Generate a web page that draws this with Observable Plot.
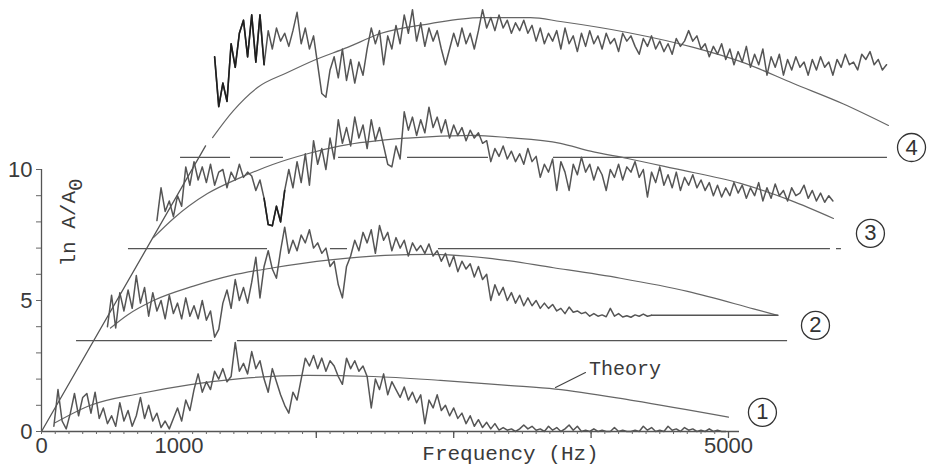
<!DOCTYPE html>
<html>
<head>
<meta charset="utf-8">
<script src="https://cdn.jsdelivr.net/npm/d3@7"></script>
<script src="https://cdn.jsdelivr.net/npm/@observablehq/plot@0.6"></script>
<style>
  html, body { margin: 0; padding: 0; background: #fff; }
</style>
</head>
<body>
<div id="chart"></div>
<script>
// Spectral ratios ln A/A0 for four records, offset vertically by ~3.5 units each.
// Each spectrum is sampled every 30 Hz from its own start frequency.
const freqStep = 30;

const s1Start = 90;
const s1Amp = [
  0.2, 1.6, 0.4, 0.1, 0.7, 1.45, 0.6, 1.3, 1.45, 0.7,
  1.5, 0.5, 0.9, 0.3, 0.6, 0.2, 1.1, 0.4, 0.8, 0.2,
  0.6, 1.3, 0.5, 1.0, 0.4, 0.7, 0.15, 0.4, 0.1, 0.5,
  0.9, 0.4, 1.2, 0.8, 1.6, 2.2, 1.5, 1.9, 1.6, 2.3,
  2.0, 2.4, 1.9, 2.1, 3.4, 2.3, 2.6, 2.2, 3.05, 2.4,
  2.7, 2.0, 1.5, 2.4, 1.9, 1.4, 1.0, 0.7, 1.5, 1.2,
  2.0, 2.8, 2.5, 2.9, 2.4, 2.8, 2.3, 2.7, 2.5, 2.1,
  1.8, 2.8, 2.4, 2.7, 2.3, 2.5, 2.1, 0.9, 2.0, 1.6,
  2.2, 1.4, 1.9, 1.6, 1.3, 1.7, 1.2, 1.5, 1.1, 1.4,
  0.3, 1.2, 0.9, 1.4, 0.8, 1.0, 0.6, 0.9, 0.5, 0.7,
  0.3, 0.6, 0.2, 0.45, 0.15, 0.35, 0.1, 0.3, 0.05, 0.15,
  0.05, 0.1, 0.0, 0.1, 0.25, 0.1, 0.2, 0.05, 0.1, 0.0,
  0.2, 0.05, 0.15, 0.0, 0.1, 0.25, 0.05, 0.2, 0.0, 0.05,
  0.0, 0.1, 0.0, 0.05, 0.0, 0.0, 0.15, 0.0, 0.05, 0.0,
  0.0, 0.05, 0.0, 0.2, 0.05, 0.15, 0.0, 0.05, 0.0, 0.2,
  0.05, 0.1, 0.0, 0.15, 0.05, 0.1, 0.0, 0.05, 0.0, 0.1,
  0.0, 0.05, 0.0, 0.0
];

const s2Start = 480;
const s2Amp = [
  4.0, 5.2, 3.95, 5.3, 4.6, 5.4, 4.7, 5.95, 4.9, 5.5,
  4.4, 5.3, 4.6, 5.0, 4.3, 5.2, 4.5, 4.9, 4.3, 5.1,
  4.4, 4.8, 4.3, 5.0, 4.25, 4.6, 3.6, 3.9, 4.9, 5.4,
  4.7, 5.8, 5.0, 5.5, 4.9, 5.7, 6.65, 5.1, 6.3, 6.9,
  6.2, 5.85, 6.9, 7.8, 6.8, 7.3, 6.9, 7.5, 7.2, 7.7,
  7.0, 7.2, 6.8, 7.0, 6.3, 6.5, 5.6, 5.1, 6.3, 6.7,
  7.3, 6.9, 7.6, 7.2, 7.7, 6.8, 7.86, 7.3, 7.6, 6.9,
  7.4, 7.0, 7.3, 6.7, 7.2, 6.9, 7.1, 6.8, 7.16, 6.7,
  6.9, 6.5, 6.8, 6.3, 6.7, 6.1, 6.5, 6.2, 6.4, 5.9,
  6.3, 5.8, 6.0, 5.0, 5.6, 5.2, 5.5, 5.0, 5.3, 4.9,
  5.2, 4.8, 5.1, 4.8, 5.0, 4.7, 4.9, 4.7, 4.85, 4.6,
  4.7, 4.5, 4.75, 4.55, 4.6, 4.5, 4.55, 4.4, 4.5, 4.4,
  4.45, 4.38, 4.7, 4.4, 4.5, 4.37, 4.42, 4.36, 4.45, 4.4,
  4.48, 4.4, 4.44
];
// flat run that closes spectrum 2 onto the end of its theory curve
const s2TailFreq = [4440, 5360];
const s2TailAmp = [4.44, 4.44];

const s3Start = 840;
const s3Amp = [
  8.05, 9.3, 8.4, 8.8, 8.2, 9.0, 8.6, 10.1, 9.4, 10.3,
  9.6, 10.1, 9.5, 10.2, 9.4, 9.9, 10.0, 9.3, 9.9, 9.6,
  10.2, 9.7, 9.9, 9.75, 9.2, 9.6, 8.9, 7.9, 7.85, 8.6,
  8.0, 9.2, 10.0, 9.3, 10.3, 9.5, 10.6, 9.4, 11.1, 10.2,
  10.8, 10.0, 11.2, 10.4, 11.9, 11.0, 11.6, 10.9, 12.0, 11.2,
  11.7, 10.8, 11.9, 11.1, 11.6, 10.9, 10.2, 10.1, 10.9, 10.4,
  12.2, 11.5, 12.0, 11.3, 11.9, 11.4, 12.38, 11.6, 12.0, 11.4,
  11.9, 11.2, 11.7, 11.3, 11.6, 11.1, 11.5, 11.2, 11.4, 11.0,
  11.1, 10.3, 10.8, 10.5, 10.9, 10.4, 10.7, 10.3, 10.6, 10.2,
  10.8, 10.3, 10.5, 9.7, 10.2, 9.9, 10.4, 9.2, 10.3, 9.9,
  9.2, 10.2, 9.8, 10.47, 9.9, 10.2, 9.6, 10.1, 9.8, 9.2,
  10.0, 9.7, 10.2, 9.6, 10.1, 9.9, 10.3, 9.7, 10.0, 8.95,
  9.9, 9.5, 10.1, 9.4, 9.8, 9.3, 9.9, 9.2, 9.7, 9.4,
  9.8, 9.3, 9.6, 9.2, 9.5, 9.0, 9.4, 8.95, 9.3, 9.0,
  9.5, 9.1, 9.4, 8.9, 9.3, 9.0, 9.5, 8.8, 9.3, 8.9,
  9.45, 9.0, 9.2, 8.8, 9.3, 9.0, 9.1, 9.4, 8.9, 9.2,
  8.8, 9.1, 8.75, 9.0, 8.8
];

const s4Start = 1260;
const s4Amp = [
  14.3, 12.4, 13.3, 12.6, 14.8, 13.9, 15.2, 15.7, 14.3, 15.9,
  14.1, 15.9, 14.0, 15.3, 14.6, 15.4, 14.9, 15.2, 14.7, 15.3,
  16.0, 14.8, 15.4, 14.6, 15.1, 14.0, 12.9, 12.76, 13.8, 14.3,
  13.5, 14.6, 13.4, 14.2, 13.3, 14.1, 13.6, 14.6, 15.4, 14.8,
  15.3, 14.0, 15.1, 14.6, 15.5, 14.8, 15.9, 15.2, 16.1, 14.9,
  15.6, 14.7, 15.4, 14.9, 15.3, 14.6, 14.0, 14.6, 15.2, 14.7,
  15.4, 14.8, 15.2, 14.6, 15.3, 16.1, 15.4, 15.8, 15.3, 15.9,
  15.4, 15.7, 15.2, 15.6, 15.3, 15.7, 15.2, 15.5, 14.9, 15.4,
  14.8, 15.2, 14.9, 15.3, 14.6, 15.4, 14.8, 15.1, 14.5, 15.2,
  14.7, 15.3, 14.8, 15.1, 14.6, 15.2, 14.8, 15.0, 14.5, 15.2,
  14.9, 15.1, 14.7, 14.4, 15.0, 14.7, 15.1, 14.6, 14.9, 14.5,
  14.8, 14.4, 15.0, 14.7, 14.9, 15.3, 14.9, 15.1, 14.6, 14.8,
  14.3, 14.7, 14.4, 14.8, 14.2, 14.6, 14.0, 14.5, 14.1, 14.7,
  13.9, 14.4, 14.0, 14.6, 13.6, 14.3, 13.9, 14.4, 13.6, 14.2,
  13.8, 14.3, 13.9, 14.1, 13.6, 14.2, 13.8, 14.3, 13.9, 14.1,
  13.6, 14.2, 13.9, 14.4, 14.0, 14.1, 13.8, 14.4, 14.2, 14.5,
  14.0, 14.2, 13.8, 14.0
];

// Theoretical spectra (smooth curves), one per record
const t1Freq = [102, 357, 720, 1084, 1448, 1936, 2416, 2904, 3392, 3741, 4309, 5000];
const t1Amp  = [0.34, 1.0, 1.45, 1.79, 2.02, 2.14, 2.10, 1.95, 1.76, 1.62, 1.18, 0.55];
const t2Freq = [502, 626, 815, 1106, 1376, 1688, 2103, 2500, 2831, 3246, 3727, 4214, 4702, 5182, 5357];
const t2Amp  = [3.95, 4.45, 5.0, 5.55, 5.95, 6.25, 6.55, 6.72, 6.76, 6.62, 6.25, 5.85, 5.35, 4.68, 4.43];
const t3Freq = [815, 961, 1208, 1448, 1688, 1936, 2176, 2664, 3144, 3392, 3777, 3996, 4265, 4600, 5087, 5451, 5764];
const t3Amp  = [7.4, 8.13, 9.08, 9.69, 10.2, 10.6, 10.9, 11.2, 11.3, 11.22, 11.0, 10.7, 10.42, 10.04, 9.47, 8.82, 8.13];
const t4Freq = [1245, 1397, 1572, 1790, 1980, 2227, 2467, 2831, 3195, 3559, 3777, 4265, 4745, 5109, 5473, 5837, 6164];
const t4Amp  = [11.22, 12.25, 13.13, 13.7, 14.16, 14.66, 15.19, 15.57, 15.8, 15.8, 15.65, 15.23, 14.66, 14.08, 13.28, 12.5, 11.68];

// Low-frequency asymptote from the origin
const asymFreq = [0, 1194];
const asymAmp  = [0, 10.9];

// Zero lines of the offset records (drawn in pieces where the traces cross them)
const baseLevel = [3.47, 3.47, 6.98, 6.98, 6.98, 6.98, 10.46, 10.46, 10.46, 10.46, 10.46];
const baseFrom  = [255, 1426, 633, 2103, 2889, 5786, 1012, 1521, 2162, 2664, 3726];
const baseTo    = [1245, 5430, 1645, 2227, 5742, 5822, 1376, 1761, 2518, 3253, 6157];

// Record numbers
const recordLabel = ["1", "2", "3", "4"];
const recordFreq  = [5247, 5633, 6033, 6332];
const recordAmp   = [0.73, 4.05, 7.56, 10.84];

// "Theory" annotation
const theoryLeaderFreq = [3741, 3959];
const theoryLeaderAmp  = [1.68, 2.25];
const theoryTextFreq = 3985;
const theoryTextAmp = 2.4;

// Axis ticks
const xMinorTicks = d3.range(0, 5001, 100);
const xMajorTicks = [2000, 3000, 4000, 5000];
const xTickLabels = [0, 1000, 5000];
const yMinorTicks = d3.range(0, 11, 1);
const yTickLabels = [0, 5, 10];

const toRows = (start, amps, id) => amps.map((v, i) => ({f: start + i * freqStep, v, id}));
const pairRows = (fs, vs, id) => fs.map((f, i) => ({f, v: vs[i], id}));

const spectra = [
  ...toRows(s1Start, s1Amp, 1),
  ...toRows(s2Start, s2Amp, 2),
  ...pairRows(s2TailFreq, s2TailAmp, 22),
  ...toRows(s3Start, s3Amp, 3),
  ...toRows(s4Start, s4Amp, 4)
];
const theory = [
  ...pairRows(t1Freq, t1Amp, 1),
  ...pairRows(t2Freq, t2Amp, 2),
  ...pairRows(t3Freq, t3Amp, 3),
  ...pairRows(t4Freq, t4Amp, 4)
];
const baselines = baseLevel.map((v, i) => ({v, from: baseFrom[i], to: baseTo[i]}));
const records = recordLabel.map((t, i) => ({t, f: recordFreq[i], v: recordAmp[i]}));

const mono = "'Liberation Mono', 'DejaVu Sans Mono', monospace";
const sans = "'Liberation Sans', Arial, sans-serif";
const ink = "#3a3a3a";
const trace = "#555";

const chart = Plot.plot({
  width: 933,
  height: 472,
  marginLeft: 41,
  marginBottom: 41,
  marginTop: 0,
  marginRight: 0,
  x: {type: "linear", domain: [0, 5000], range: [41, 728]},
  y: {type: "linear", domain: [0, 10], range: [431, 169]},
  style: {background: "#fff", overflow: "visible"},
  marks: [
    Plot.ruleY(baselines, {y: "v", x1: "from", x2: "to", stroke: "#555", strokeWidth: 1.3}),
    Plot.line(pairRows(asymFreq, asymAmp, 0), {x: "f", y: "v", stroke: "#555", strokeWidth: 1.3}),
    Plot.line(theory, {x: "f", y: "v", z: "id", curve: "monotone-x", stroke: "#666", strokeWidth: 1.2}),
    Plot.line(spectra, {x: "f", y: "v", z: "id", stroke: trace, strokeWidth: 1.5, strokeLinejoin: "round"}),
    // darker pieces of records 3 and 4
    Plot.line(spectra, {filter: d => d.id === 4 && d.f <= 1620, x: "f", y: "v", stroke: "#1e1e1e", strokeWidth: 1.6}),
    Plot.line(spectra, {filter: d => d.id === 3 && d.f >= 1620 && d.f <= 1770, x: "f", y: "v", stroke: "#1e1e1e", strokeWidth: 1.6}),

    // axes
    Plot.ruleY([0], {x1: 0, x2: 5080, stroke: "#555", strokeWidth: 1.3}),
    Plot.ruleX([0], {y1: 0, y2: 10, stroke: "#555", strokeWidth: 1.3}),
    Plot.axisX(xMinorTicks, {tickSize: 3, tickFormat: () => "", label: null, stroke: "#666"}),
    Plot.axisX(xMajorTicks, {tickSize: 7, tickFormat: () => "", label: null, stroke: "#555", strokeWidth: 1.3}),
    Plot.axisX(xTickLabels, {tickSize: 0, tickPadding: 6, label: null, fontSize: 22, fontFamily: sans, fill: ink, tickFormat: d => String(d)}),
    Plot.axisY(yMinorTicks, {tickSize: 5, tickFormat: () => "", label: null, stroke: "#666"}),
    Plot.axisY(yTickLabels, {tickSize: 0, tickPadding: 9, label: null, fontSize: 22, fontFamily: sans, fill: ink, tickFormat: d => String(d)}),

    // axis titles
    Plot.text(["Frequency (Hz)"], {text: d => d, frameAnchor: "bottom-left", dx: 469, dy: 28, textAnchor: "middle", fontFamily: mono, fontSize: 21, fill: ink}),
    Plot.text(["ln A/A0"], {text: d => d, frameAnchor: "top-left", dx: 19, dy: 222, textAnchor: "middle", rotate: -90, fontFamily: mono, fontSize: 21, fill: ink}),

    // theory annotation
    Plot.line(pairRows(theoryLeaderFreq, theoryLeaderAmp, 0), {x: "f", y: "v", stroke: "#444", strokeWidth: 1.2}),
    Plot.text(["Theory"], {text: d => d, x: () => theoryTextFreq, y: () => theoryTextAmp, textAnchor: "start", fontFamily: mono, fontSize: 20, fill: ink}),

    // record numbers
    Plot.dot(records, {x: "f", y: "v", r: 14, stroke: "#333", strokeWidth: 1.3, fill: "white"}),
    Plot.text(records, {x: "f", y: "v", text: "t", fontFamily: sans, fontSize: 22, fill: "#333"})
  ]
});

// subscript on the y-axis title
d3.select(chart).selectAll("text")
  .filter(function () { return this.textContent === "ln A/A0"; })
  .each(function () {
    const t = d3.select(this);
    t.text(null);
    t.append("tspan").text("ln A/A");
    t.append("tspan").attr("dy", "0.3em").text("0");
  });

document.getElementById("chart").appendChild(chart);
</script>
</body>
</html>
